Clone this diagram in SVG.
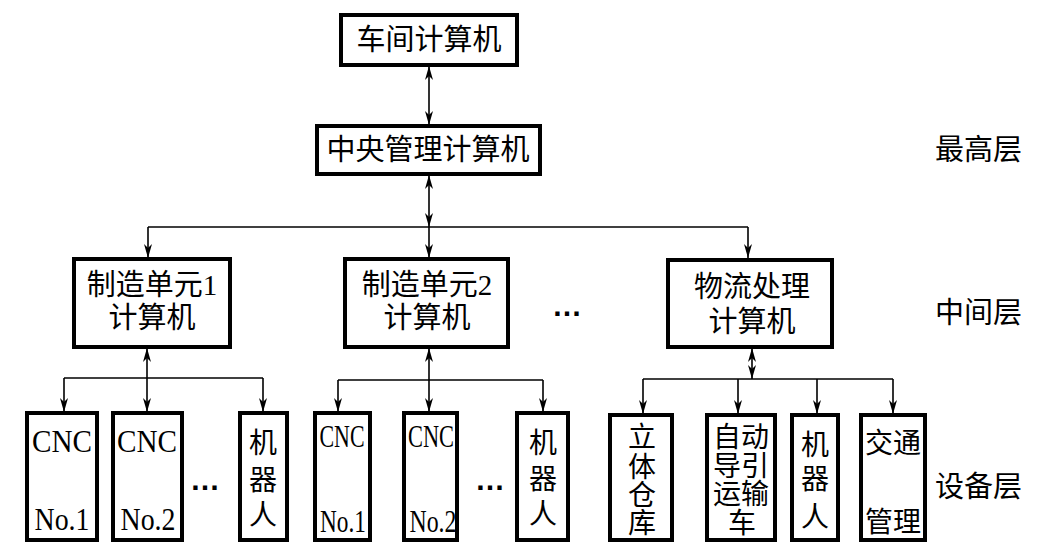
<svg xmlns="http://www.w3.org/2000/svg" width="1040" height="551" viewBox="0 0 1040 551">
<style>
.box{fill:#fff;stroke:#000;stroke-width:4}
.t{font-family:"Liberation Serif","Noto Sans CJK SC",serif;font-size:29px;fill:#000;text-anchor:middle}
.s{font-size:28px}
.c{font-size:31px}
.d{font-family:"Liberation Sans",sans-serif;font-size:30px;font-weight:bold;fill:#000;text-anchor:middle}
.lbl{font-family:"Liberation Serif","Noto Sans CJK SC",serif;font-size:29px;fill:#000}
.ln{stroke:#000;stroke-width:1.6;fill:none}
.a{marker-end:url(#arr)}
.b{marker-start:url(#arr);marker-end:url(#arr)}
</style>
<defs>
<marker id="arr" viewBox="0 0 14 8" refX="14" refY="4" markerWidth="14" markerHeight="8" markerUnits="userSpaceOnUse" orient="auto-start-reverse">
<path d="M0,0 L14,4 L0,8 L4,4 z" fill="#000"/>
</marker>
</defs>
<rect width="1040" height="551" fill="#fff"/>

<g id="connectors">
<line class="ln b" x1="429" y1="66" x2="429" y2="125"/>
<line class="ln b" x1="429" y1="175" x2="429" y2="227"/>
<line class="ln" x1="148" y1="227" x2="748" y2="227"/>
<line class="ln a" x1="148" y1="227" x2="148" y2="258"/>
<line class="ln a" x1="429" y1="227" x2="429" y2="258"/>
<line class="ln a" x1="748" y1="227" x2="748" y2="258"/>

<line class="ln b" x1="147" y1="348" x2="147" y2="412"/>
<line class="ln" x1="64" y1="378" x2="263" y2="378"/>
<line class="ln a" x1="64" y1="378" x2="64" y2="412"/>
<line class="ln a" x1="263" y1="378" x2="263" y2="412"/>

<line class="ln b" x1="429" y1="348" x2="429" y2="412"/>
<line class="ln" x1="338" y1="380" x2="543" y2="380"/>
<line class="ln a" x1="338" y1="380" x2="338" y2="412"/>
<line class="ln a" x1="543" y1="380" x2="543" y2="412"/>

<line class="ln b" x1="752" y1="348" x2="752" y2="379"/>
<line class="ln" x1="643" y1="379" x2="893" y2="379"/>
<line class="ln a" x1="643" y1="379" x2="643" y2="414"/>
<line class="ln a" x1="738" y1="379" x2="738" y2="414"/>
<line class="ln a" x1="817" y1="379" x2="817" y2="414"/>
<line class="ln a" x1="893" y1="379" x2="893" y2="414"/>
</g>

<g id="workshop">
<rect class="box" x="341" y="15" width="176" height="50"/>
<text class="t" x="429" y="50">车间计算机</text>
</g>
<g id="central">
<rect class="box" x="317" y="126" width="223" height="48"/>
<text class="t" x="428" y="160">中央管理计算机</text>
</g>

<g id="cell1">
<rect class="box" x="74" y="259" width="156" height="88"/>
<text class="t" x="152" y="295">制造单元1</text>
<text class="t" x="152" y="328">计算机</text>
</g>
<g id="cell2">
<rect class="box" x="345" y="259" width="163" height="88"/>
<text class="t" x="427" y="295">制造单元2</text>
<text class="t" x="427" y="328">计算机</text>
</g>
<g id="dots-mid">
<text class="d" x="567" y="316">…</text>
</g>
<g id="logistics">
<rect class="box" x="668" y="260" width="164" height="87"/>
<text class="t" x="752" y="297">物流处理</text>
<text class="t" x="752" y="332">计算机</text>
</g>

<g id="g1-cnc1">
<rect class="box" x="27" y="413" width="70" height="127"/>
<text class="t c" x="62" y="452" textLength="60" lengthAdjust="spacingAndGlyphs">CNC</text>
<text class="t c" x="62" y="530" textLength="55" lengthAdjust="spacingAndGlyphs">No.1</text>
</g>
<g id="g1-cnc2">
<rect class="box" x="113" y="413" width="69" height="127"/>
<text class="t c" x="147" y="452" textLength="60" lengthAdjust="spacingAndGlyphs">CNC</text>
<text class="t c" x="148" y="530" textLength="55" lengthAdjust="spacingAndGlyphs">No.2</text>
</g>
<g id="g1-dots"><text class="d" x="205" y="490">…</text></g>
<g id="g1-robot">
<rect class="box" x="240" y="413" width="47" height="127"/>
<text class="t s" x="263" y="453">机</text>
<text class="t s" x="263" y="490">器</text>
<text class="t s" x="263" y="525">人</text>
</g>

<g id="g2-cnc1">
<rect class="box" x="315" y="413" width="55" height="127"/>
<text class="t c" x="342" y="447" textLength="45" lengthAdjust="spacingAndGlyphs">CNC</text>
<text class="t c" x="343" y="532" textLength="46" lengthAdjust="spacingAndGlyphs">No.1</text>
</g>
<g id="g2-cnc2">
<rect class="box" x="404" y="413" width="53" height="127"/>
<text class="t c" x="431" y="447" textLength="46" lengthAdjust="spacingAndGlyphs">CNC</text>
<text class="t c" x="433" y="532" textLength="47" lengthAdjust="spacingAndGlyphs">No.2</text>
</g>
<g id="g2-dots"><text class="d" x="490" y="490">…</text></g>
<g id="g2-robot">
<rect class="box" x="517" y="413" width="51" height="127"/>
<text class="t s" x="543" y="453">机</text>
<text class="t s" x="543" y="489">器</text>
<text class="t s" x="543" y="524">人</text>
</g>

<g id="g3-warehouse">
<rect class="box" x="610" y="415" width="62" height="125"/>
<text class="t s" x="642" y="447">立</text>
<text class="t s" x="642" y="477">体</text>
<text class="t s" x="642" y="505">仓</text>
<text class="t s" x="642" y="533">库</text>
</g>
<g id="g3-agv">
<rect class="box" x="707" y="415" width="68" height="125"/>
<text class="t s" x="741" y="447">自动</text>
<text class="t s" x="741" y="476">导引</text>
<text class="t s" x="741" y="504">运输</text>
<text class="t s" x="742" y="533">车</text>
</g>
<g id="g3-robot">
<rect class="box" x="792" y="415" width="46" height="125"/>
<text class="t s" x="815" y="455">机</text>
<text class="t s" x="815" y="489">器</text>
<text class="t s" x="815" y="527">人</text>
</g>
<g id="g3-traffic">
<rect class="box" x="861" y="415" width="64" height="125"/>
<text class="t s" x="893" y="453">交通</text>
<text class="t s" x="893" y="532">管理</text>
</g>

<g id="levels">
<text class="lbl" x="935" y="160">最高层</text>
<text class="lbl" x="935" y="323">中间层</text>
<text class="lbl" x="935" y="497">设备层</text>
</g>
</svg>
